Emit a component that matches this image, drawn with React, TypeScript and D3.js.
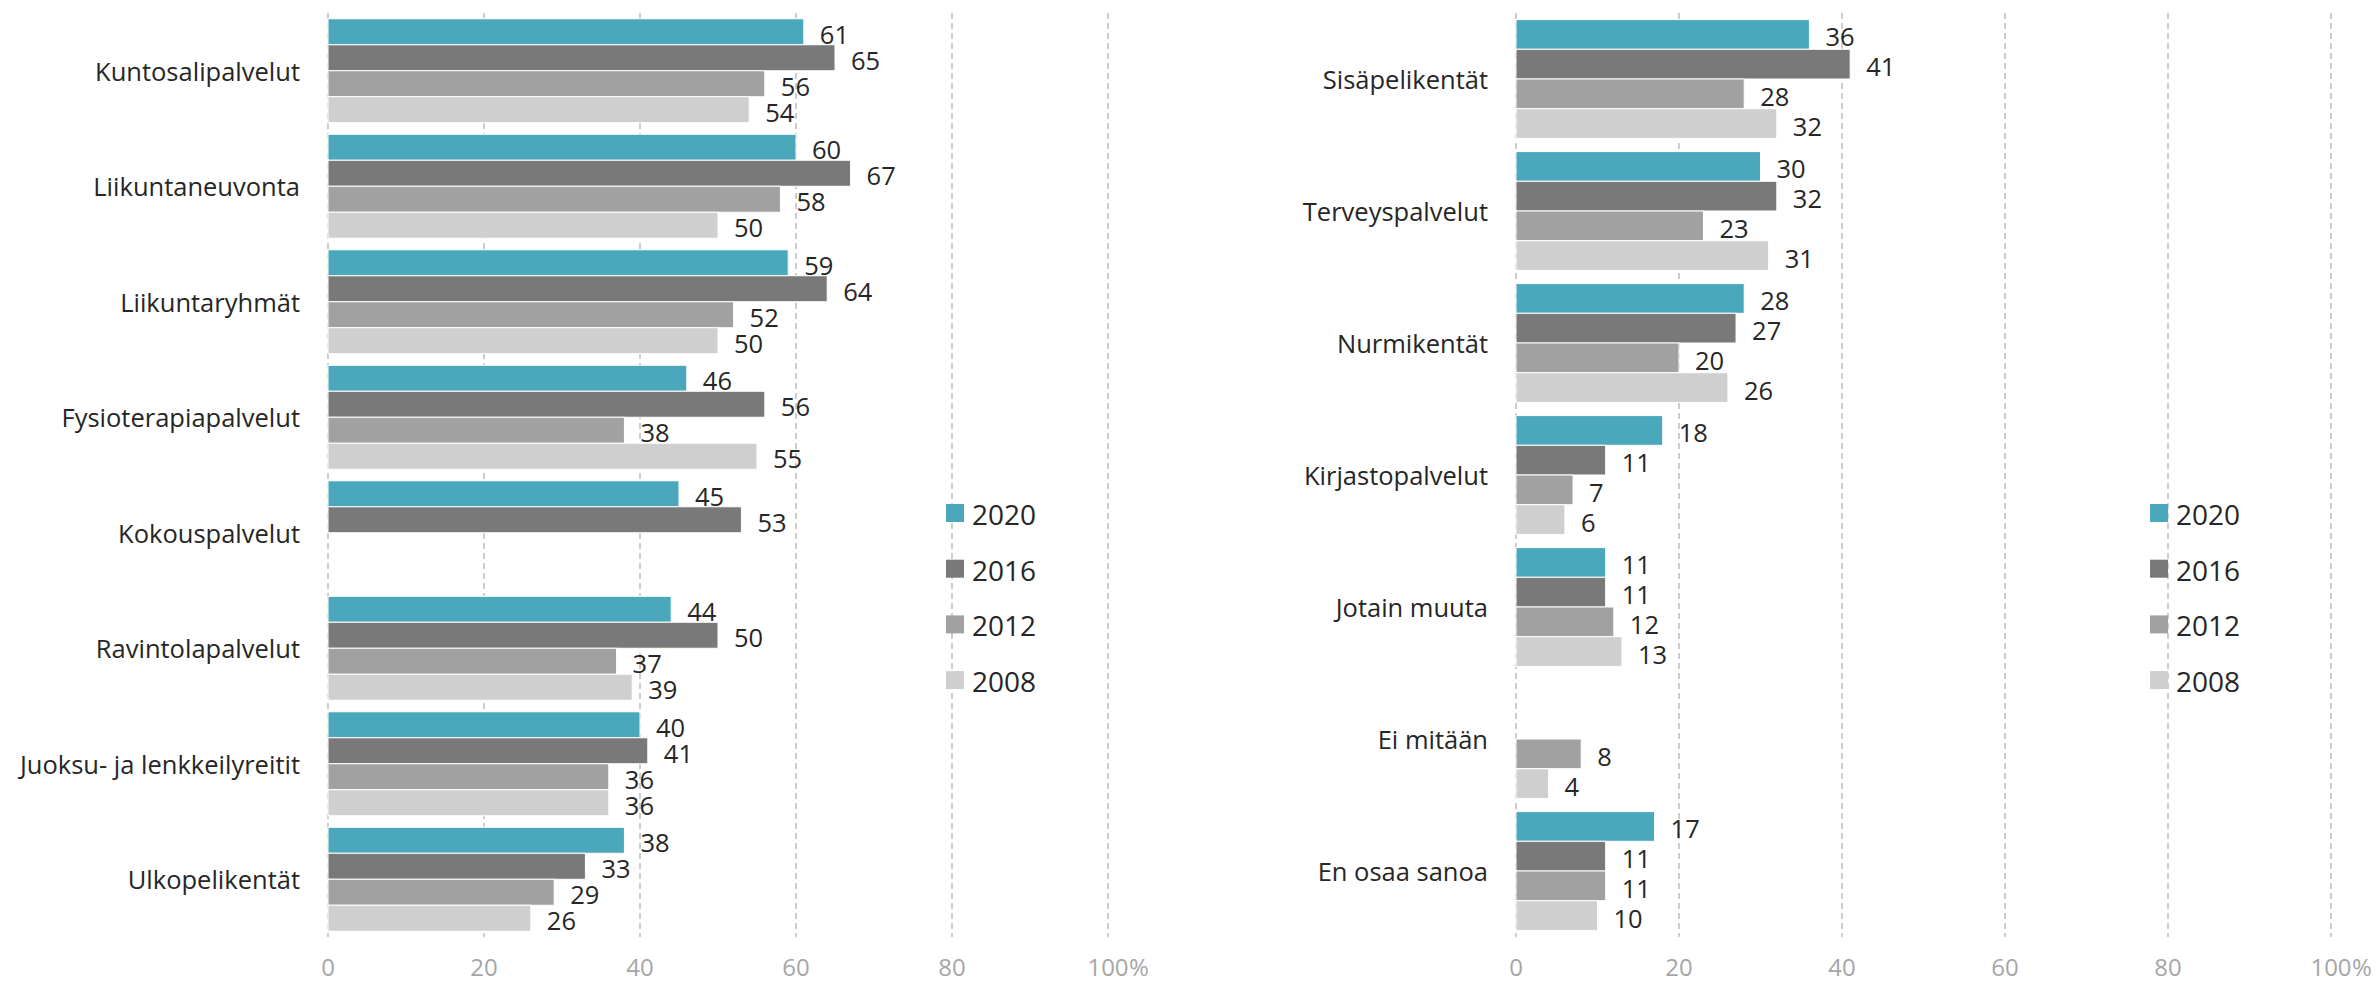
import React from 'react';
import { scaleBand, scaleLinear } from 'd3';

const years = ['2020', '2016', '2012', '2008'];
const colors = ['#4BA7BC', '#797979', '#A1A1A1', '#CFCFCF'];
const ticks = [0, 20, 40, 60, 80, 100];

const leftCategories = [
    'Kuntosalipalvelut',
    'Liikuntaneuvonta',
    'Liikuntaryhmät',
    'Fysioterapiapalvelut',
    'Kokouspalvelut',
    'Ravintolapalvelut',
    'Juoksu- ja lenkkeilyreitit',
    'Ulkopelikentät',
];
const left2020 = [61, 60, 59, 46, 45, 44, 40, 38];
const left2016 = [65, 67, 64, 56, 53, 50, 41, 33];
const left2012 = [56, 58, 52, 38, null, 37, 36, 29];
const left2008 = [54, 50, 50, 55, null, 39, 36, 26];

const rightCategories = [
    'Sisäpelikentät',
    'Terveyspalvelut',
    'Nurmikentät',
    'Kirjastopalvelut',
    'Jotain muuta',
    'Ei mitään',
    'En osaa sanoa',
];
const right2020 = [36, 30, 28, 18, 11, null, 17];
const right2016 = [41, 32, 27, 11, 11, null, 11];
const right2012 = [28, 23, 20, 7, 12, 8, 11];
const right2008 = [32, 31, 26, 6, 13, 4, 10];

const FONT = '"Open Sans", Lato, sans-serif';
const TOP = 13;
const BOTTOM = 937;

type PanelProps = {
    categories: string[];
    series: (number | null)[][];
    x0: number;
    x1: number;
    legendX: number;
};

const Panel = ({ categories, series, x0, x1, legendX }: PanelProps) => {
    const x = scaleLinear().domain([0, 100]).range([x0, x1]);
    const y = scaleBand()
        .domain(categories)
        .range([TOP, BOTTOM])
        .paddingInner(0.1)
        .paddingOuter(0.05);
    const inner = scaleBand().domain(years).range([0, y.bandwidth()]);

    return (
        <g>
            {ticks.map((t) => (
                <line
                    key={'g' + t}
                    x1={x(t)}
                    x2={x(t)}
                    y1={TOP}
                    y2={BOTTOM}
                    stroke="#BDBDBD"
                    strokeWidth={1.5}
                    strokeDasharray="6 4"
                />
            ))}
            {ticks.map((t) => (
                <g key={'t' + t}>
                    <text
                        x={x(t)}
                        y={966}
                        textAnchor="middle"
                        dominantBaseline="central"
                        fontSize={24}
                        fill="#A6A6A6"
                    >
                        {t}
                    </text>
                    {t === 100 && (
                        <text x={x(t) + 21} y={966} dominantBaseline="central" fontSize={24} fill="#A6A6A6">
                            %
                        </text>
                    )}
                </g>
            ))}
            {categories.map((c, i) => (
                <g key={c} transform={`translate(0,${y(c)})`}>
                    <text
                        x={x0 - 28}
                        y={y.bandwidth() / 2}
                        textAnchor="end"
                        dominantBaseline="central"
                        fontSize={25.5}
                        fill="#262626"
                    >
                        {c}
                    </text>
                    {years.map((yr, j) => {
                        const v = series[j][i];
                        if (v === null) return null;
                        return (
                            <g key={yr}>
                                <rect
                                    x={x(0)}
                                    y={inner(yr)}
                                    width={x(v) - x(0)}
                                    height={inner.bandwidth()}
                                    fill={colors[j]}
                                    stroke="#fff"
                                    strokeWidth={1}
                                />
                                <text
                                    x={x(v) + 16}
                                    y={(inner(yr) as number) + inner.bandwidth() / 2 + 2}
                                    dominantBaseline="central"
                                    fontSize={25.5}
                                    fill="#262626"
                                >
                                    {v}
                                </text>
                            </g>
                        );
                    })}
                </g>
            ))}
            {years.map((yr, j) => (
                <g key={'l' + yr} transform={`translate(${legendX},${513 + j * 55.7})`}>
                    <rect x={0} y={-9} width={18} height={18} fill={colors[j]} />
                    <text x={26} y={1} dominantBaseline="central" fontSize={28} fill="#262626">
                        {yr}
                    </text>
                </g>
            ))}
        </g>
    );
};

const App = () => {
    return (
        <React.Fragment>
            <style>{'body{margin:0}'}</style>
            <svg width={2379} height={983} style={{ display: 'block', fontFamily: FONT }}>
                <rect width={2379} height={983} fill="#fff" />
                <Panel
                    categories={leftCategories}
                    series={[left2020, left2016, left2012, left2008]}
                    x0={328}
                    x1={1108}
                    legendX={946}
                />
                <Panel
                    categories={rightCategories}
                    series={[right2020, right2016, right2012, right2008]}
                    x0={1516}
                    x1={2331}
                    legendX={2150}
                />
            </svg>
        </React.Fragment>
    );
};

export default App;
